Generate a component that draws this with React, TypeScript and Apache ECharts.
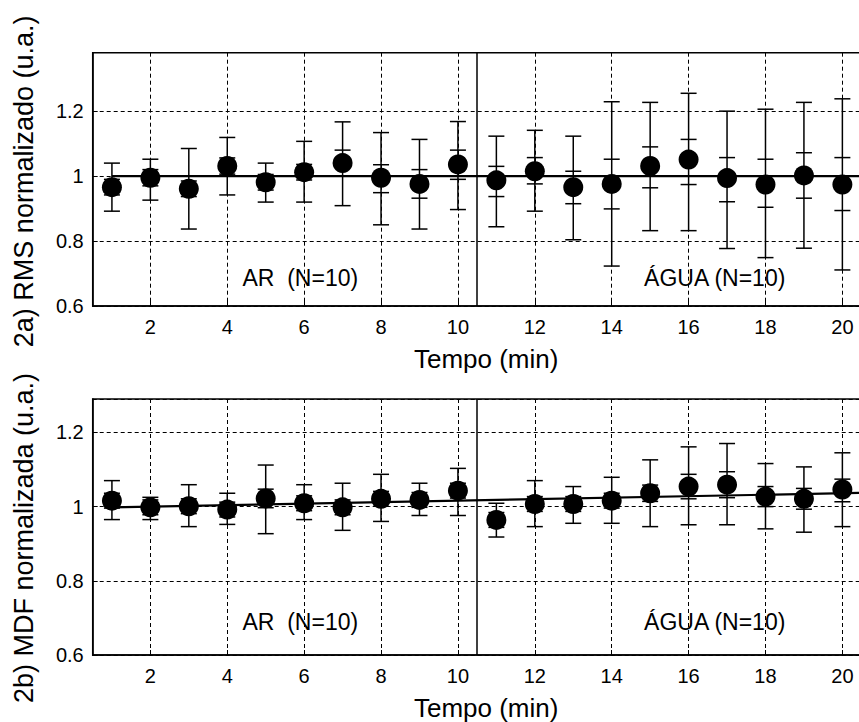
import React, { useEffect, useRef } from "react";
import * as echarts from "echarts";

// ---- data ----
const minutes = [1, 2, 3, 4, 5, 6, 7, 8, 9, 10, 11, 12, 13, 14, 15, 16, 17, 18, 19, 20];
const xTicks = [2, 4, 6, 8, 10, 12, 14, 16, 18, 20];
const phaseBoundary = 10.5;

// 2a) RMS normalizado
const rmsMean = [0.966, 0.995, 0.961, 1.031, 0.981, 1.012, 1.04, 0.995, 0.976, 1.036, 0.987, 1.015, 0.966, 0.976, 1.031, 1.051, 0.994, 0.974, 1.002, 0.974];
const rmsOuterHi = [1.04, 1.052, 1.085, 1.119, 1.04, 1.107, 1.167, 1.134, 1.113, 1.168, 1.123, 1.141, 1.123, 1.229, 1.227, 1.255, 1.2, 1.206, 1.227, 1.238];
const rmsOuterLo = [0.892, 0.926, 0.837, 0.942, 0.92, 0.92, 0.909, 0.85, 0.837, 0.897, 0.844, 0.892, 0.804, 0.723, 0.832, 0.832, 0.777, 0.749, 0.778, 0.711];
const rmsInnerHi = [0.99, 1.02, 0.985, 1.056, 1.005, 1.036, 1.08, 1.035, 1.02, 1.08, 1.03, 1.057, 1.015, 1.052, 1.09, 1.113, 1.057, 1.052, 1.072, 1.057];
const rmsInnerLo = [0.942, 0.97, 0.937, 1.006, 0.957, 0.988, 1.0, 0.949, 0.932, 0.99, 0.937, 0.976, 0.915, 0.899, 0.964, 0.974, 0.921, 0.904, 0.932, 0.894];
const rmsFitX = [1, 20.5];
const rmsFitY = [1.0, 1.0];

// 2b) MDF normalizada
const mdfMean = [1.016, 0.998, 1.001, 0.992, 1.022, 1.009, 0.998, 1.021, 1.018, 1.043, 0.964, 1.007, 1.007, 1.016, 1.036, 1.054, 1.059, 1.027, 1.021, 1.046];
const mdfOuterHi = [1.07, 1.025, 1.059, 1.036, 1.112, 1.059, 1.063, 1.087, 1.063, 1.103, 1.009, 1.07, 1.054, 1.079, 1.126, 1.161, 1.17, 1.116, 1.107, 1.145];
const mdfOuterLo = [0.965, 0.965, 0.946, 0.952, 0.927, 0.965, 0.936, 0.96, 0.976, 0.976, 0.918, 0.946, 0.955, 0.955, 0.946, 0.951, 0.951, 0.94, 0.931, 0.946];
const mdfInnerHi = [1.036, 1.018, 1.021, 1.012, 1.047, 1.029, 1.018, 1.041, 1.038, 1.063, 0.984, 1.027, 1.027, 1.036, 1.058, 1.087, 1.094, 1.054, 1.049, 1.074];
const mdfInnerLo = [0.996, 0.978, 0.981, 0.972, 0.997, 0.989, 0.978, 1.001, 0.998, 1.023, 0.944, 0.987, 0.987, 0.996, 1.014, 1.021, 1.024, 1.0, 0.993, 1.013];
const mdfFitX = [1, 20.5];
const mdfFitY = [0.998, 1.037];

const groupLabels = ["AR  (N=10)", "ÁGUA (N=10)"];
const groupLabelX = [5.9, 16.68];
const rmsLabelY = 0.687;
const mdfLabelY = 0.69;

const xTitle = "Tempo (min)";
const rmsTitle = "2a) RMS normalizado (u.a.)";
const mdfTitle = "2b) MDF normalizada (u.a.)";

const FONT = "'Liberation Sans', Arial, Helvetica, sans-serif";

function renderErr(params: any, api: any) {
  const x = api.value(0);
  const lo = api.coord([x, api.value(1)]);
  const hi = api.coord([x, api.value(2)]);
  const ilo = api.coord([x, api.value(3)]);
  const ihi = api.coord([x, api.value(4)]);
  const w = 8;
  const style = { stroke: "#000", lineWidth: 1.5 };
  const seg = (x1: number, y1: number, x2: number, y2: number) => ({
    type: "line",
    shape: { x1, y1, x2, y2 },
    style,
  });
  const cap = (p: number[]) => seg(p[0] - w, p[1], p[0] + w, p[1]);
  return {
    type: "group",
    children: [seg(lo[0], lo[1], hi[0], hi[1]), cap(lo), cap(hi), cap(ilo), cap(ihi)],
  };
}

function makeSeries(idx: number, mean: number[], oHi: number[], oLo: number[], iHi: number[], iLo: number[], fitX: number[], fitY: number[], labelY: number) {
  return [
    {
      type: "line",
      xAxisIndex: idx,
      yAxisIndex: idx,
      data: fitX.map((x, i) => [x, fitY[i]]),
      symbol: "none",
      lineStyle: { color: "#000", width: 2.2 },
      z: 3,
      markLine: {
        silent: true,
        symbol: "none",
        label: { show: false },
        lineStyle: { color: "#000", type: "solid", width: 1.5 },
        data: [{ xAxis: phaseBoundary }],
      },
    },
    {
      type: "custom",
      xAxisIndex: idx,
      yAxisIndex: idx,
      renderItem: renderErr,
      encode: { x: 0, y: [1, 2] },
      data: minutes.map((m, i) => [m, oLo[i], oHi[i], iLo[i], iHi[i]]),
      z: 4,
    },
    {
      type: "scatter",
      xAxisIndex: idx,
      yAxisIndex: idx,
      data: minutes.map((m, i) => [m, mean[i]]),
      symbol: "circle",
      symbolSize: 20,
      itemStyle: { color: "#000", opacity: 1 },
      z: 5,
    },
    {
      type: "scatter",
      xAxisIndex: idx,
      yAxisIndex: idx,
      symbolSize: 0,
      itemStyle: { opacity: 1 },
      data: groupLabels.map((n, i) => ({ name: n, value: [groupLabelX[i], labelY] })),
      label: {
        show: true,
        position: "inside",
        formatter: (p: any) => p.name,
        color: "#000",
        opacity: 1,
        fontSize: 23,
        fontFamily: FONT,
      },
      z: 6,
    },
  ];
}

function xAxisCfg(idx: number) {
  return {
    type: "value",
    gridIndex: idx,
    min: 0.5,
    max: 20.5,
    splitNumber: 10,
    name: xTitle,
    nameLocation: "middle",
    nameGap: 40,
    nameTextStyle: { color: "#000", fontSize: 26, fontFamily: FONT, padding: [0, 0, 0, 18] },
    axisLine: { show: true, onZero: false, lineStyle: { color: "#000", width: 1.5 } },
    axisTick: { show: true, inside: true, length: 5, customValues: xTicks, lineStyle: { color: "#000" } },
    axisLabel: { customValues: xTicks, color: "#000", fontSize: 20, fontFamily: FONT, margin: 11 },
    splitLine: { show: true, lineStyle: { color: "#000", type: [4, 3], width: 1 } },
  };
}

function yAxisCfg(idx: number, max: number, title: string, pad: number[]) {
  return {
    type: "value",
    gridIndex: idx,
    min: 0.6,
    max,
    interval: 0.2,
    name: title,
    nameLocation: "middle",
    nameGap: 55,
    nameTextStyle: { color: "#000", fontSize: 27, fontFamily: FONT, padding: pad },
    axisLine: { show: true, onZero: false, lineStyle: { color: "#000", width: 1.5 } },
    axisTick: { show: true, inside: true, length: 5, lineStyle: { color: "#000" } },
    axisLabel: { color: "#000", fontSize: 20, fontFamily: FONT, margin: 9, showMaxLabel: false },
    splitLine: { show: true, lineStyle: { color: "#000", type: [4, 3], width: 1 } },
  };
}

export default function App() {
  const ref = useRef<HTMLDivElement>(null);
  useEffect(() => {
    if (!ref.current) return;
    const chart = echarts.init(ref.current, undefined, { renderer: "svg" });
    chart.setOption({
      animation: false,
      backgroundColor: "#fff",
      grid: [
        { left: 92.7, top: 52.7, width: 768.9, height: 253.3, show: true, borderColor: "#000", borderWidth: 1.5, backgroundColor: "transparent" },
        { left: 92.7, top: 399, width: 768.9, height: 256.7, show: true, borderColor: "#000", borderWidth: 1.5, backgroundColor: "transparent" },
      ],
      xAxis: [xAxisCfg(0), xAxisCfg(1)],
      yAxis: [yAxisCfg(0, 1.38, rmsTitle, [0, 4, 0, 0]), yAxisCfg(1, 1.29, mdfTitle, [0, 22, 0, 0])],
      series: [
        ...makeSeries(0, rmsMean, rmsOuterHi, rmsOuterLo, rmsInnerHi, rmsInnerLo, rmsFitX, rmsFitY, rmsLabelY),
        ...makeSeries(1, mdfMean, mdfOuterHi, mdfOuterLo, mdfInnerHi, mdfInnerLo, mdfFitX, mdfFitY, mdfLabelY),
      ],
    });
    return () => chart.dispose();
  }, []);
  return (
    <div style={{ position: "fixed", left: 0, top: 0, width: 859, height: 722, overflow: "hidden", background: "#fff" }}>
      <div ref={ref} style={{ width: 866, height: 722 }} />
    </div>
  );
}
